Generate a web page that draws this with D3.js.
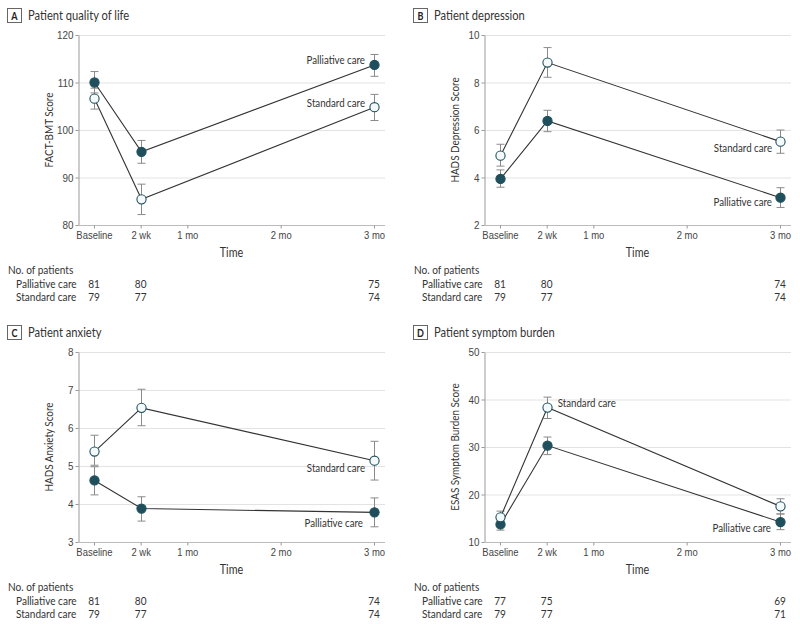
<!DOCTYPE html>
<html>
<head>
<meta charset="utf-8">
<script src="https://cdn.jsdelivr.net/npm/d3@7"></script>
<style>
  html, body { margin: 0; padding: 0; background: #fff; }
  svg { display: block; font-family: Lato, "Open Sans", sans-serif; }
</style>
</head>
<body>
<svg id="chart" width="800" height="624"></svg>
<script>
// ---- Data ----
const timeLabels = ["Baseline", "2 wk", "1 mo", "2 mo", "3 mo"];
const timeTicks = [0, 0.5, 1, 2, 3];          // months
const measureTimes = [0, 0.5, 3];             // months of assessments

const panelLetters = ["A", "B", "C", "D"];
const panelTitles = ["Patient quality of life", "Patient depression", "Patient anxiety", "Patient symptom burden"];
const yLabels = ["FACT-BMT Score", "HADS Depression Score", "HADS Anxiety Score", "ESAS Symptom Burden Score"];
const yTicksA = [80, 90, 100, 110, 120];
const yTicksB = [2, 4, 6, 8, 10];
const yTicksC = [3, 4, 5, 6, 7, 8];
const yTicksD = [10, 20, 30, 40, 50];

// Means and 95% CI bounds (baseline, 2 wk, 3 mo)
const palliativeA = [110.0, 95.4, 113.7];
const palliativeA_lo = [107.8, 93.0, 111.3];
const palliativeA_hi = [112.3, 97.8, 115.9];
const standardA = [106.6, 85.4, 104.8];
const standardA_lo = [104.4, 82.2, 102.0];
const standardA_hi = [108.8, 88.6, 107.5];

const palliativeB = [3.94, 6.38, 3.15];
const palliativeB_lo = [3.59, 5.93, 2.74];
const palliativeB_hi = [4.32, 6.83, 3.57];
const standardB = [4.92, 8.84, 5.51];
const standardB_lo = [4.48, 8.22, 5.02];
const standardB_hi = [5.40, 9.47, 6.00];

const palliativeC = [4.62, 3.88, 3.78];
const palliativeC_lo = [4.24, 3.55, 3.40];
const palliativeC_hi = [4.98, 4.19, 4.16];
const standardC = [5.38, 6.53, 5.14];
const standardC_lo = [5.02, 6.06, 4.63];
const standardC_hi = [5.81, 7.02, 5.65];

const palliativeD = [13.7, 30.3, 14.2];
const palliativeD_lo = [12.5, 28.4, 12.6];
const palliativeD_hi = [14.9, 32.1, 15.9];
const standardD = [15.2, 38.3, 17.5];
const standardD_lo = [13.9, 36.0, 15.9];
const standardD_hi = [16.5, 40.5, 19.1];

// Number of patients (baseline, 2 wk, 3 mo)
const nPalliativeA = [81, 80, 75], nStandardA = [79, 77, 74];
const nPalliativeB = [81, 80, 74], nStandardB = [79, 77, 74];
const nPalliativeC = [81, 80, 74], nStandardC = [79, 77, 74];
const nPalliativeD = [77, 75, 69], nStandardD = [79, 77, 71];

const groupNames = ["Palliative care", "Standard care"];

// ---- Layout ----
const panels = [
  { ox: 0,   oy: 0,   yTicks: yTicksA,
    series: [[palliativeA, palliativeA_lo, palliativeA_hi], [standardA, standardA_lo, standardA_hi]],
    n: [nPalliativeA, nStandardA],
    labels: [{ i: 2, dx: -9, dy: -5.5, anchor: "end" }, { i: 2, dx: -9, dy: -4, anchor: "end" }] },
  { ox: 406, oy: 0,   yTicks: yTicksB,
    series: [[palliativeB, palliativeB_lo, palliativeB_hi], [standardB, standardB_lo, standardB_hi]],
    n: [nPalliativeB, nStandardB],
    labels: [{ i: 2, dx: -8, dy: 4.5, anchor: "end" }, { i: 2, dx: -8, dy: 6.5, anchor: "end" }] },
  { ox: 0,   oy: 317, yTicks: yTicksC,
    series: [[palliativeC, palliativeC_lo, palliativeC_hi], [standardC, standardC_lo, standardC_hi]],
    n: [nPalliativeC, nStandardC],
    labels: [{ i: 2, dx: -11, dy: 10, anchor: "end" }, { i: 2, dx: -9, dy: 7, anchor: "end" }] },
  { ox: 406, oy: 317, yTicks: yTicksD,
    series: [[palliativeD, palliativeD_lo, palliativeD_hi], [standardD, standardD_lo, standardD_hi]],
    n: [nPalliativeD, nStandardD],
    labels: [{ i: 2, dx: -9, dy: 6, anchor: "end" }, { i: 1, dx: 11, dy: -5, anchor: "start" }] }
];

const axisLeft = 78, plotRight = 385, plotTop = 35, plotBottom = 225;
const markerDark = "#1f4f5d";
const textColor = "#333";
const squeeze = 0.86; // condensed look

const svg = d3.select("#chart");

function addText(g, x, y, str, size, opts = {}) {
  const rot = opts.rotate ? ` rotate(${opts.rotate})` : "";
  return g.append("text")
    .attr("transform", `translate(${x},${y})${rot} scale(${squeeze},1)`)
    .attr("text-anchor", opts.anchor || "start")
    .attr("dominant-baseline", "central")
    .attr("font-size", size)
    .attr("font-weight", opts.weight || 400)
    .attr("fill", opts.fill || textColor)
    .text(str);
}

panels.forEach((p, pi) => {
  const g = svg.append("g").attr("transform", `translate(${p.ox},${p.oy})`);
  const x = d3.scaleLinear().domain([0, 3]).range([94, 374]);
  const y = d3.scaleLinear().domain(d3.extent(p.yTicks)).range([plotBottom, plotTop]);

  // Title
  g.append("rect").attr("x", 7.5).attr("y", 8.5).attr("width", 14).attr("height", 14)
    .attr("fill", "#fff").attr("stroke", "#666").attr("stroke-width", 1);
  addText(g, 14.5, 15.5, panelLetters[pi], 10.5, { anchor: "middle", weight: 700, fill: "#222" });
  addText(g, 28, 15.5, panelTitles[pi], 13);

  // Gridlines
  g.append("g").selectAll("line").data(p.yTicks.slice(1)).join("line")
    .attr("x1", axisLeft).attr("x2", plotRight)
    .attr("y1", d => y(d) + 0.5).attr("y2", d => y(d) + 0.5)
    .attr("stroke", "#e3e3e3").attr("stroke-width", 1);

  // Y axis
  const ya = g.append("g").attr("transform", `translate(${axisLeft + 0.5},0)`)
    .call(d3.axisLeft(y).tickValues(p.yTicks).tickFormat(d3.format("d"))
      .tickSize(3).tickPadding(2).tickSizeOuter(0));
  ya.select(".domain").attr("stroke", "#999");
  ya.selectAll(".tick line").attr("stroke", "#999");
  ya.selectAll(".tick text").attr("font-size", 11.5).attr("fill", "#444").attr("font-family", null)
    .attr("x", -5 / squeeze).attr("transform", `scale(${squeeze},1)`);

  // X axis
  const xa = g.append("g").attr("transform", `translate(0,${plotBottom + 0.5})`)
    .call(d3.axisBottom(x).tickValues(timeTicks).tickFormat((d, i) => timeLabels[i])
      .tickSize(3).tickPadding(3).tickSizeOuter(0));
  xa.select(".domain").attr("d", `M${axisLeft},0H${plotRight}`).attr("stroke", "#bbb");
  xa.selectAll(".tick line").attr("stroke", "#999");
  xa.selectAll(".tick text").attr("font-size", 11).attr("fill", "#444").attr("font-family", null)
    .attr("transform", `scale(${squeeze},1)`);

  // Axis titles
  addText(g, (axisLeft + plotRight) / 2, 252, "Time", 12.5, { anchor: "middle" });
  addText(g, 48, (plotTop + plotBottom) / 2, yLabels[pi], 11.5, { anchor: "middle", rotate: -90 });

  // Error bars
  p.series.forEach(([m, lo, hi]) => {
    const eb = g.append("g").attr("stroke", "#8a8a8a").attr("stroke-width", 1);
    measureTimes.forEach((t, i) => {
      const cx = Math.round(x(t)) + 0.5;
      eb.append("line").attr("x1", cx).attr("x2", cx).attr("y1", y(lo[i])).attr("y2", y(hi[i]));
      eb.append("line").attr("x1", cx - 4).attr("x2", cx + 4).attr("y1", y(lo[i])).attr("y2", y(lo[i]));
      eb.append("line").attr("x1", cx - 4).attr("x2", cx + 4).attr("y1", y(hi[i])).attr("y2", y(hi[i]));
    });
  });

  // Lines
  const line = d3.line().x((d, i) => Math.round(x(measureTimes[i])) + 0.5).y(d => y(d));
  p.series.forEach(([m]) => {
    g.append("path").attr("d", line(m)).attr("fill", "none").attr("stroke", "#333").attr("stroke-width", 1.1);
  });

  // Markers
  p.series.forEach(([m], si) => {
    g.append("g").selectAll("circle").data(m).join("circle")
      .attr("cx", (d, i) => Math.round(x(measureTimes[i])) + 0.5)
      .attr("cy", d => y(d)).attr("r", 4.6)
      .attr("fill", si === 0 ? markerDark : "#f4fafc")
      .attr("stroke", markerDark).attr("stroke-width", 1.1);
  });

  // Series labels
  p.labels.forEach((lb, si) => {
    const m = p.series[si][0];
    addText(g, x(measureTimes[lb.i]) + lb.dx, y(m[lb.i]) + lb.dy, groupNames[si], 11.3, { anchor: lb.anchor });
  });

  // Patient numbers table
  addText(g, 8, 269, "No. of patients", 11.7);
  const rowsY = [283, 296];
  groupNames.forEach((name, ri) => {
    addText(g, 16, rowsY[ri], name, 11.7);
    p.n[ri].forEach((v, i) => addText(g, x(measureTimes[i]), rowsY[ri], v, 11.7, { anchor: "middle" }));
  });
});
</script>
</body>
</html>
